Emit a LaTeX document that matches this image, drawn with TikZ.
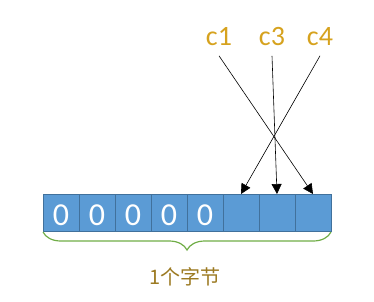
\documentclass[tikz,border=0pt]{standalone}
\usepackage{fontspec}
\setmainfont{Carlito}
\newfontfamily\cjkfont{Noto Sans CJK SC}
\usetikzlibrary{positioning, arrows.meta, decorations.pathreplacing}
\definecolor{cellblue}{HTML}{5B9BD5}
\definecolor{celledge}{HTML}{41719C}
\definecolor{bracegreen}{HTML}{70AD47}
\definecolor{ptrgold}{HTML}{D6A21E}
\definecolor{bytebrown}{HTML}{9C7A22}

\begin{document}
\begin{tikzpicture}[
x=1pt, y=1pt,
node distance=0pt,
cell/.style={rectangle, draw=celledge, fill=cellblue, line width=0.8pt, minimum width=36pt, minimum height=37pt, inner sep=0pt, outer sep=0pt, text=white, text height=25pt, text depth=0pt, font=\fontsize{32}{32}\selectfont},
ptr/.style={text=ptrgold, inner xsep=0pt, inner ysep=10pt, font=\fontsize{28}{28}\selectfont},
arrow/.style={-{Triangle[length=10pt, width=10pt]}, line width=0.6pt},
bytebrace/.style={decorate, decoration={brace, mirror, amplitude=18pt}, draw=bracegreen, line width=1.2pt},
bytelabel/.style={text=bytebrown, font=\cjkfont\fontsize{20}{20}\selectfont}
]
\useasboundingbox (0,0) rectangle (374,301);

\node[cell] (bit1) at (61,88.5) {0};
\node[cell, right=of bit1] (bit2) {0};
\node[cell, right=of bit2] (bit3) {0};
\node[cell, right=of bit3] (bit4) {0};
\node[cell, right=of bit4] (bit5) {0};
\node[cell, right=of bit5] (bit6) {};
\node[cell, right=of bit6] (bit7) {};
\node[cell, right=of bit7] (bit8) {};

\node[ptr] (ptr1) at (219,264.5) {c1};
\node[ptr] (ptr3) at (272,264.5) {c3};
\node[ptr] (ptr4) at (320,264.5) {c4};

\draw[arrow] (ptr1.south) -- (bit8.north);
\draw[arrow] (ptr3.south) -- (bit7.north);
\draw[arrow] (ptr4.south) -- (bit6.north);

\draw[bytebrace] ([yshift=-1pt]bit1.south west) -- ([yshift=-1pt]bit8.south east);
\node[bytelabel] (bytes) at (185,24) {1个字节};

\end{tikzpicture}
\end{document}
